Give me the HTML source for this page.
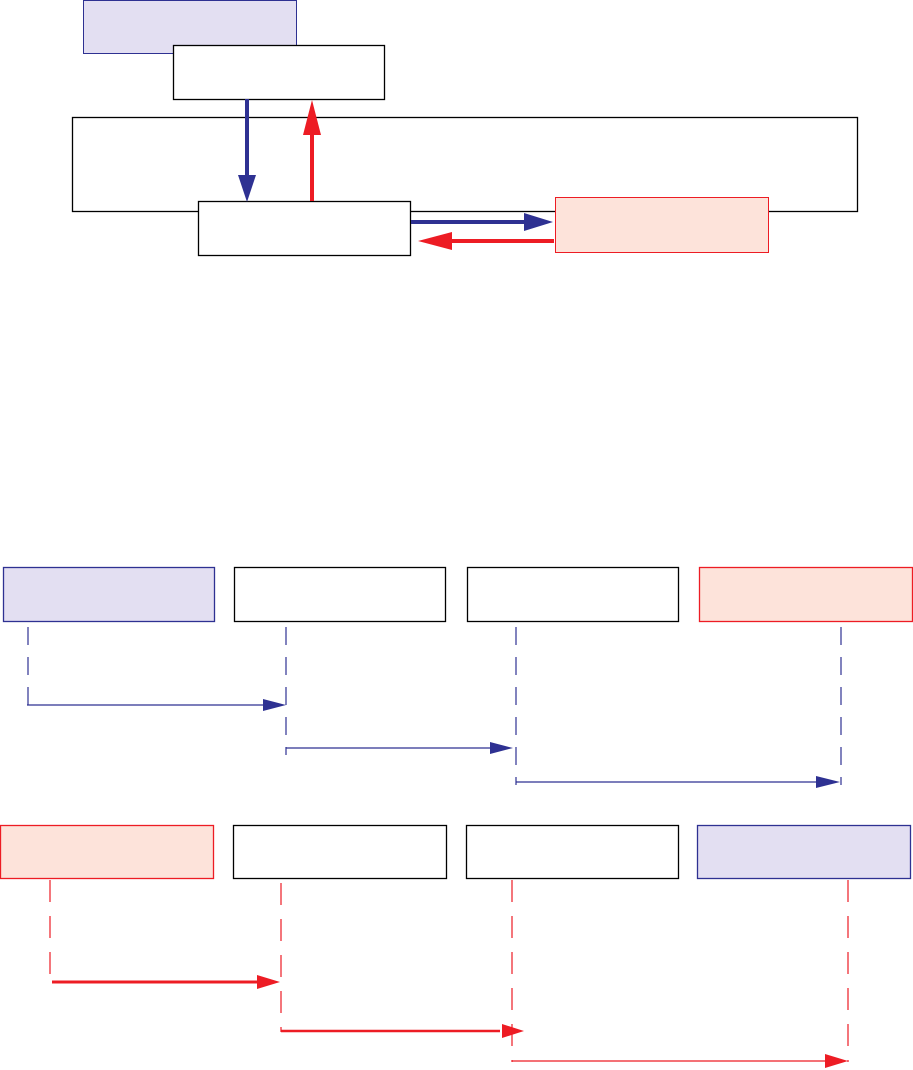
<!DOCTYPE html>
<html><head><meta charset="utf-8"><style>html,body{margin:0;padding:0;background:#fff}svg{display:block}</style></head>
<body>
<svg width="913" height="1070" viewBox="0 0 913 1070" xmlns="http://www.w3.org/2000/svg">
<rect x="0" y="0" width="913" height="1070" fill="#fff"/>
<!-- top diagram -->
<rect x="83.5" y="0.5" width="213" height="53" fill="#e3dff2" stroke="#2e3192" stroke-width="1"/>
<rect x="173.5" y="45.5" width="211" height="54" fill="#fff" stroke="#000" stroke-width="1.3"/>
<rect x="72.5" y="117.5" width="785" height="94" fill="none" stroke="#000" stroke-width="1.3"/>
<rect x="198.5" y="201.5" width="212" height="54" fill="#fff" stroke="#000" stroke-width="1.3"/>
<rect x="555.5" y="197.5" width="213" height="55" fill="#fde3da" stroke="#ed1c24" stroke-width="1"/>
<line x1="247" y1="99" x2="247" y2="175" stroke="#2e3192" stroke-width="4"/>
<polygon points="238,175 256,175 247,202" fill="#2e3192"/>
<line x1="312" y1="201" x2="312" y2="134" stroke="#ed1c24" stroke-width="4"/>
<polygon points="303,135 321,135 312,100" fill="#ed1c24"/>
<line x1="411" y1="222" x2="525" y2="222" stroke="#2e3192" stroke-width="4"/>
<polygon points="524,213 524,231 553,222" fill="#2e3192"/>
<line x1="554" y1="241" x2="450" y2="241" stroke="#ed1c24" stroke-width="4"/>
<polygon points="452,232 452,250 418,241" fill="#ed1c24"/>
<!-- row1 -->
<g stroke-width="1.3" fill="none">
<rect x="3.5" y="567.5" width="211" height="54" fill="#e3dff2" stroke="#2e3192"/>
<rect x="234.5" y="567.5" width="211" height="54" fill="#fff" stroke="#000"/>
<rect x="467.5" y="567.5" width="211" height="54" fill="#fff" stroke="#000"/>
<rect x="699.5" y="567.5" width="213" height="54" fill="#fde3da" stroke="#ed1c24"/>
</g>
<g stroke="#2e3192" stroke-width="1.2" stroke-dasharray="18,12" fill="none">
<line x1="28" y1="627" x2="28" y2="717"/>
<line x1="286" y1="627" x2="286" y2="755"/>
<line x1="516" y1="627" x2="516" y2="785"/>
<line x1="841" y1="627" x2="841" y2="785"/>
</g>
<g stroke="#2e3192" stroke-width="1.3">
<line x1="27" y1="705" x2="265" y2="705"/>
<line x1="286" y1="748" x2="492" y2="748"/>
<line x1="516" y1="782" x2="818" y2="782"/>
</g>
<g fill="#2e3192">
<polygon points="263,699 263,711 286,705"/>
<polygon points="490,742 490,754 513,748"/>
<polygon points="816,776 816,788 840,782"/>
</g>
<!-- row2 -->
<g stroke-width="1.3" fill="none">
<rect x="0.5" y="825.5" width="213" height="53" fill="#fde3da" stroke="#ed1c24"/>
<rect x="233.5" y="825.5" width="213" height="53" fill="#fff" stroke="#000"/>
<rect x="466.5" y="825.5" width="212" height="53" fill="#fff" stroke="#000"/>
<rect x="697.5" y="825.5" width="213" height="53" fill="#e3dff2" stroke="#2e3192"/>
</g>
<g stroke="#ed1c24" stroke-width="1.2" stroke-dasharray="22,14" fill="none">
<line x1="50" y1="880" x2="50" y2="985"/>
<line x1="281" y1="883" x2="281" y2="1032"/>
<line x1="512" y1="880" x2="512" y2="1062"/>
<line x1="848" y1="880" x2="848" y2="1062"/>
</g>
<line x1="52" y1="982" x2="258" y2="982" stroke="#ed1c24" stroke-width="3"/>
<line x1="281" y1="1031" x2="500" y2="1031" stroke="#ed1c24" stroke-width="2.5"/>
<line x1="512" y1="1061" x2="826" y2="1061" stroke="#ed1c24" stroke-width="1.3"/>
<g fill="#ed1c24">
<polygon points="257,975 257,989 280,982"/>
<polygon points="502,1024 502,1038 524,1031"/>
<polygon points="825,1054 825,1068 848,1061"/>
</g>
</svg>
</body></html>
